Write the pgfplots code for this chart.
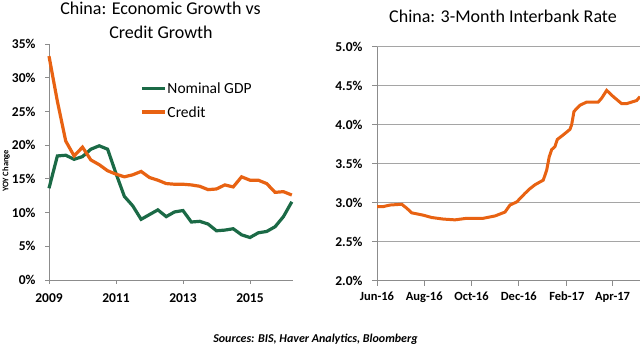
\documentclass[border=0pt]{standalone}
\usepackage{pgfplots}
\pgfplotsset{compat=1.18}
\usepackage{fontspec}
\setmainfont{Carlito}
\definecolor{gdpgreen}{RGB}{27,106,70}
\definecolor{credorange}{RGB}{232,98,18}
\definecolor{axgray}{RGB}{140,140,140}
\definecolor{gridgray}{RGB}{165,165,165}
\newcommand{\fs}[1]{\fontsize{#1bp}{#1bp}\selectfont}
\begin{document}
\begin{tikzpicture}
\useasboundingbox (0,0) rectangle (640bp,347bp);
% Left chart
\begin{axis}[
  at={(49bp,67bp)}, anchor=south west,
  scale only axis, width=244.5bp, height=236bp,
  xmin=2009, xmax=2016.3, ymin=0, ymax=35,
  axis lines*=left,
  axis line style={axgray, line width=0.8bp},
  xtick={2009,2011,2013,2015},
  ytick={0,5,...,35},
  tick align=outside,
  major tick length=4bp,
  tick style={axgray, line width=0.8bp},
  /pgf/number format/assume math mode=true,
  xticklabel style={font=\fs{13.5}\bfseries, /pgf/number format/set thousands separator={}, yshift=-6bp},
  yticklabel style={font=\fs{13.5}\bfseries, xshift=-6bp},
  yticklabel={\pgfmathprintnumber{\tick}\%},
  clip=false,
  legend style={at={(axis cs:2011.72,29.4)}, anchor=north west, draw=none, fill=none,
    font=\fs{15.5}, inner sep=0pt, row sep=11bp,
    nodes={inner sep=1pt, text depth=0pt}},
  legend cell align=left,
  legend image code/.code={\draw[#1] (0bp,0bp) -- (23bp,0bp);},
]
\addplot[gdpgreen, line width=3.2bp] coordinates {
(2009.00,13.6) (2009.25,18.4) (2009.50,18.5) (2009.75,17.9) (2010.00,18.3)
(2010.25,19.4) (2010.50,19.9) (2010.75,19.4) (2011.00,15.8) (2011.25,12.4)
(2011.50,11.0) (2011.75,9.0) (2012.00,9.7) (2012.25,10.4) (2012.50,9.4)
(2012.75,10.1) (2013.00,10.3) (2013.25,8.6) (2013.50,8.7) (2013.75,8.3)
(2014.00,7.3) (2014.25,7.4) (2014.50,7.6) (2014.75,6.7) (2015.00,6.3)
(2015.25,7.0) (2015.50,7.2) (2015.75,7.9) (2016.00,9.4) (2016.25,11.6)};
\addlegendentry{Nominal GDP}
\addplot[credorange, line width=3.2bp] coordinates {
(2009.00,33.2) (2009.25,26.5) (2009.50,20.6) (2009.75,18.4) (2010.00,19.7)
(2010.25,17.8) (2010.50,17.1) (2010.75,16.2) (2011.00,15.7) (2011.25,15.3)
(2011.50,15.6) (2011.75,16.1) (2012.00,15.2) (2012.25,14.8) (2012.50,14.3)
(2012.75,14.2) (2013.00,14.2) (2013.25,14.1) (2013.50,13.9) (2013.75,13.4)
(2014.00,13.5) (2014.25,14.1) (2014.50,13.8) (2014.75,15.3) (2015.00,14.8)
(2015.25,14.8) (2015.50,14.3) (2015.75,13.0) (2016.00,13.1) (2016.25,12.6)};
\addlegendentry{Credit}
\end{axis}
% Right chart
\begin{axis}[
  at={(377bp,66.3bp)}, anchor=south west,
  scale only axis, width=263bp, height=234bp,
  xmin=0, xmax=339.4, ymin=2, ymax=5,
  axis lines*=left,
  axis line style={axgray, line width=0.8bp},
  ymajorgrids, grid style={gridgray, line width=0.8bp},
  xtick={0,61,122,183,245,304},
  xticklabels={Jun-16,Aug-16,Oct-16,Dec-16,Feb-17,Apr-17},
  ytick={2,2.5,...,5},
  tick align=outside,
  major tick length=5bp,
  tick style={axgray, line width=0.8bp},
  /pgf/number format/assume math mode=true,
  xticklabel style={font=\fs{12.5}\bfseries, yshift=-3bp},
  yticklabel style={font=\fs{13.5}\bfseries, xshift=-6bp},
  yticklabel={\pgfmathprintnumber[fixed,fixed zerofill,precision=1]{\tick}\%},
  clip=false,
]
\addplot[credorange, line width=3bp] coordinates {
(0,2.95) (8,2.95) (16.8,2.97) (31.9,2.98) (38.3,2.93) (44.8,2.87) (59.7,2.84)
(70.6,2.81) (85.5,2.79) (100.6,2.78) (115.7,2.80) (137.2,2.80) (152.3,2.83)
(165.2,2.88) (171.6,2.97) (180.3,3.01) (182.3,3.03) (191,3.12) (197.4,3.18)
(203.9,3.23) (214.6,3.29) (219,3.42) (222.3,3.59) (225.4,3.68) (229.7,3.72)
(232.6,3.81) (240.4,3.87) (249,3.94) (251.2,4.00) (254.2,4.17) (261.9,4.25)
(270.6,4.29) (285.5,4.29) (289.9,4.34) (296.4,4.44) (304.9,4.36) (315.7,4.27)
(322.2,4.27) (328.6,4.29) (335.1,4.31) (339.4,4.36)};
\end{axis}
% Titles and notes
\node[anchor=base, font=\fs{18}] at (160.5bp,332bp) {China: Economic Growth vs};
\node[anchor=base, font=\fs{18}] at (161bp,308.5bp) {Credit Growth};
\node[anchor=base, font=\fs{18}] at (503bp,324.5bp) {China: 3-Month Interbank Rate};
\node[rotate=90, font=\fs{8.5}\bfseries] at (6bp,176bp) {YOY Change};
\node[anchor=base, font=\fs{12}\bfseries\itshape] at (315.5bp,4.5bp) {Sources: BIS, Haver Analytics, Bloomberg};
\end{tikzpicture}
\end{document}
